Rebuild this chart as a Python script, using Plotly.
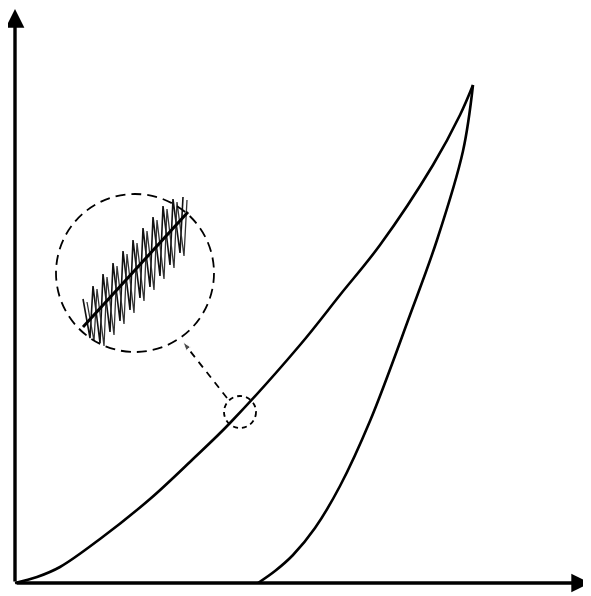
import plotly.graph_objects as go

# loading branch (displacement, load), arbitrary units
load_h = [0, 22, 45, 85, 135, 178, 215, 285, 325, 365, 418, 445, 458]
load_p = [0, 6, 16, 44, 84, 124, 160, 238, 288, 338, 418, 468, 498]

# unloading branch
unload_h = [458, 448, 422, 395, 355, 325, 300, 278, 260, 243]
unload_p = [498, 432, 343, 268, 162, 97, 55, 28, 12, 0]

# magnified detail: zigzag around the mean line
zig_h = [68, 75, 78, 85, 88, 95, 98, 105, 108, 115, 118, 125, 128, 135, 138, 145, 148, 155, 158, 165, 168]
zig_p = [284, 245, 297, 240, 309, 251, 320, 262, 332, 273, 343, 285, 355, 296, 366, 307, 377, 318, 384, 330, 386]
mean_h = [68, 173]
mean_p = [256, 371]

# detail circle and the small spot it zooms into
big_c = (120, 310, 79)
small_c = (225, 171, 16)
link_h = [212, 168]
link_p = [185, 241]

x_end, y_end = 575, 574

fig = go.Figure()

fig.add_trace(go.Scatter(x=load_h, y=load_p, mode='lines',
                         line=dict(color='black', width=2.6, shape='spline', smoothing=1.0)))
fig.add_trace(go.Scatter(x=unload_h, y=unload_p, mode='lines',
                         line=dict(color='black', width=2.6, shape='spline', smoothing=1.0)))

fig.add_trace(go.Scatter(x=zig_h, y=zig_p, mode='lines',
                         line=dict(color='#111', width=1.6)))
fig.add_trace(go.Scatter(x=[h + 4 for h in zig_h], y=[p - 3 for p in zig_p], mode='lines',
                         line=dict(color='#333', width=1.3)))
fig.add_trace(go.Scatter(x=mean_h, y=mean_p, mode='lines',
                         line=dict(color='black', width=3)))

fig.add_trace(go.Scatter(x=link_h, y=link_p, mode='lines+markers',
                         line=dict(color='black', width=1.8, dash='7px,6px'),
                         marker=dict(symbol=['circle', 'arrow'], size=[0, 9], angleref='previous',
                                     color='black')))

for cx, cy, r, dash in [(*big_c, '10px,6px'), (*small_c, '5px,4px')]:
    fig.add_shape(type='circle', xref='x', yref='y', x0=cx - r, x1=cx + r, y0=cy - r, y1=cy + r,
                  line=dict(color='black', width=1.8, dash=dash))

# axes with arrows
for tx, ty in [(0, y_end), (x_end, 0)]:
    fig.add_annotation(x=tx, y=ty, ax=0, ay=0, xref='x', yref='y', axref='x', ayref='y',
                       showarrow=True, arrowhead=2, arrowsize=1.1, arrowwidth=3.4,
                       arrowcolor='black', text='')

# page body has an 8px margin, so the figure is a bit smaller than the window
fig.update_layout(width=583, height=588, margin=dict(l=0, r=0, t=0, b=0),
                  plot_bgcolor='white', paper_bgcolor='white', showlegend=False)
fig.update_xaxes(range=[-7, 576], visible=False)
fig.update_yaxes(range=[-13, 575], visible=False)

fig.write_html("out.html")
